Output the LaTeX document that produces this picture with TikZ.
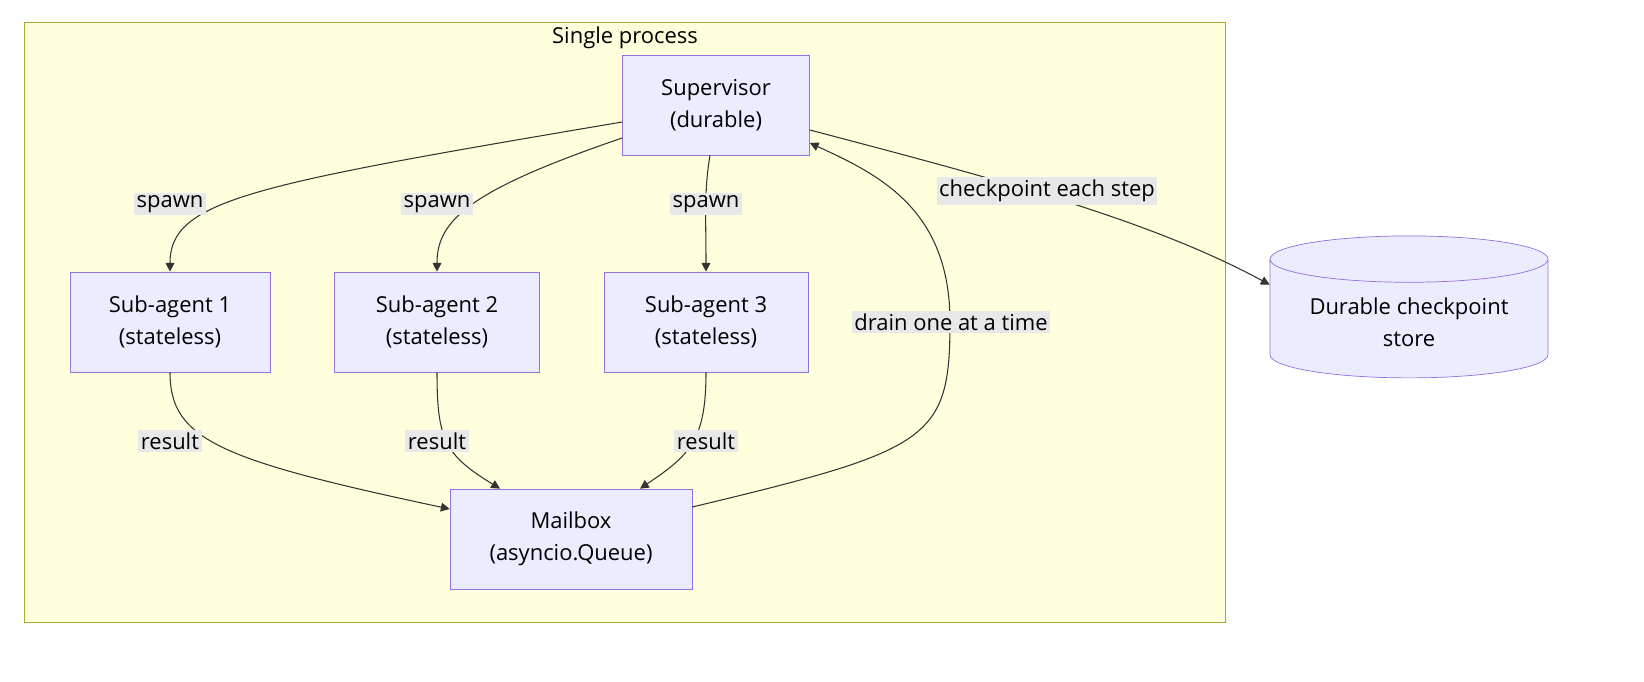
\documentclass[tikz,border=0pt]{standalone}
\usepackage{fontspec}
\setmainfont{Open Sans}
\usetikzlibrary{arrows.meta,calc,shapes.geometric}
\definecolor{boxfill}{HTML}{ECECFF}
\definecolor{boxline}{HTML}{9370DB}
\definecolor{grpfill}{HTML}{FFFFDE}
\definecolor{grpline}{HTML}{AAAA33}
\definecolor{lblfill}{HTML}{E8E8E8}
\definecolor{edgecol}{HTML}{333333}
\tikzset{
	box/.style={draw=boxline, fill=boxfill, minimum width=4cm, minimum height=2cm, align=center, font=\fontsize{12.5}{18}\selectfont},
	lbl/.style={fill=lblfill, inner sep=1.5pt, font=\fontsize{12.5}{14}\selectfont},
	link/.style={draw=edgecol, line width=0.6pt, -{Triangle[length=5pt,width=5pt]}}
}
\begin{document}
\begin{tikzpicture}[x=0.02cm,y=-0.02cm]
		\path[use as bounding box, fill=white] (0,0) rectangle (1644,682);
		\begin{scope}
		\clip (0,0) rectangle (1644,682);
		\node[draw=grpline, fill=grpfill, minimum width=24.02cm, minimum height=12cm, anchor=north west] (grp) at (24,22) {};
		\node[font=\fontsize{12.5}{14}\selectfont] (grptitle) at (625,38) {Single process};
%
		\node[box, minimum width=3.74cm] (sup) at (716,105) {Supervisor\\(durable)};
		\node[box] (sub1) at (170,322) {Sub-agent 1\\(stateless)};
		\node[box, minimum width=4.1cm] (sub2) at (437,322) {Sub-agent 2\\(stateless)};
		\node[box, minimum width=4.08cm] (sub3) at (706,322) {Sub-agent 3\\(stateless)};
		\node[box, minimum width=4.84cm] (mbox) at (571,539) {Mailbox\\(asyncio.Queue)};
		\node[cylinder, shape border rotate=90, aspect=0.22, draw=boxline, fill=boxfill, minimum width=5.56cm, minimum height=2.84cm, align=center, font=\fontsize{12.5}{18}\selectfont] (store) at (1409,322) {Durable checkpoint\\store};
%
		\path[link]
			($(sup.west)+(0,17)$) .. controls (250,185) and (170,200) .. (sub1.north);
		\path[link]
			($(sup.west)+(0,33)$) .. controls (470,190) and (437,220) .. (sub2.north);
		\path[link]
			($(sup.south)+(-6,0)$) .. controls (704,190) and (706,220) .. (sub3.north);
		\path[link]
			(sub1.south) .. controls (170,440) and (220,460) .. ($(mbox.west)+(0,-30)$);
		\path[link]
			(sub2.south) .. controls (437,440) and (445,455) .. ($(mbox.north)+(-71,0)$);
		\path[link]
			(sub3.south) .. controls (706,440) and (690,455) .. ($(mbox.north)+(69,0)$);
		\path[link]
			($(mbox.east)+(0,-32)$) .. controls (930,450) and (950,440) .. (950,322)
			.. controls (950,210) and (880,175) .. ($(sup.east)+(0,38)$);
		\path[link]
			($(sup.east)+(0,25)$) .. controls (1000,180) and (1150,220) .. (store.165);
%
		\node[lbl] (l1) at (170,204) {spawn};
		\node[lbl] (l2) at (437,204) {spawn};
		\node[lbl] (l3) at (706,204) {spawn};
		\node[lbl] (l4) at (170,441) {result};
		\node[lbl] (l5) at (437,441) {result};
		\node[lbl] (l6) at (706,441) {result};
		\node[lbl] (l7) at (951,322) {drain one at a time};
		\node[lbl] (l8) at (1047,191) {checkpoint each step};
		\end{scope}
	\end{tikzpicture}
\end{document}
